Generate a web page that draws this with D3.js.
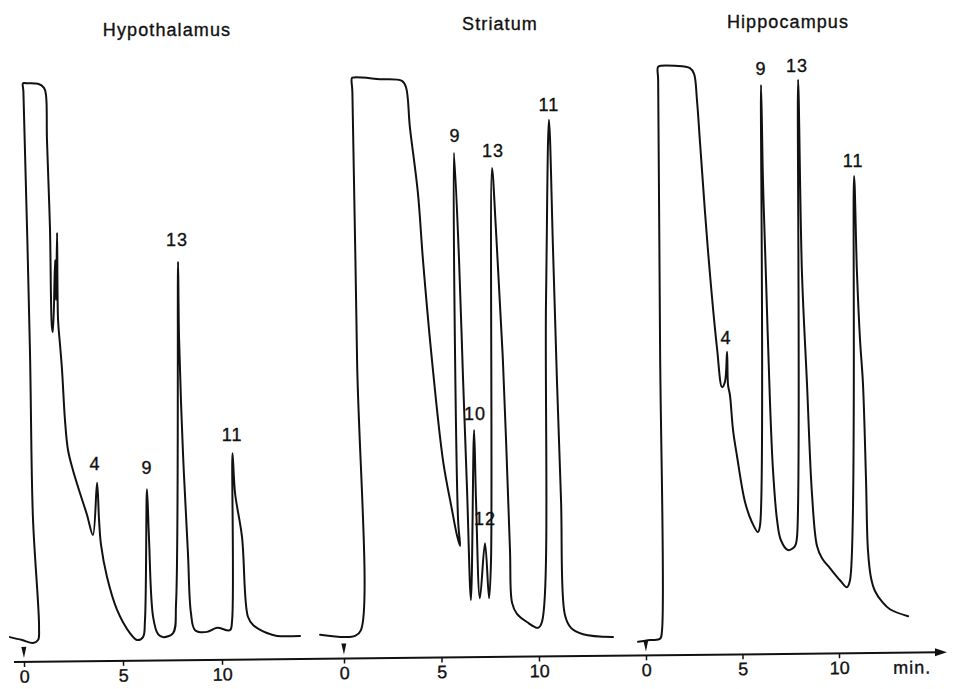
<!DOCTYPE html>
<html>
<head>
<meta charset="utf-8">
<script src="https://cdn.jsdelivr.net/npm/d3@7"></script>
<style>
  body { margin: 0; background: #fff; }
  svg text { font-family: "Liberation Sans", Arial, sans-serif; fill: #111; stroke: #111; stroke-width: 0.35px; }
</style>
</head>
<body>
<svg id="chart"></svg>
<script>
// Panel titles and axis ticks
const panelNames = ["Hypothalamus", "Striatum", "Hippocampus"];
const tickValues = [0, 5, 10];
const timeUnit = "min.";

// Traces: [time (min), detector signal (% of full scale)]
const hypothalamusTrace = [
    [-0.71, 0.5], [-0.10, 0], [0.45, -0.5], [0.71, 0], [0.76, 2.2], [0.45, 21.2], [0.30, 50],
    [-0.03, 94.5], [-0.05, 96], [0.10, 96], [0.71, 95.9], [1.01, 95.2], [1.11, 94], [1.16, 86.2],
    [1.31, 71.2], [1.41, 54], [1.46, 53.1], [1.57, 65.5], [1.62, 58.6], [1.67, 70.2], [1.72, 55.2],
    [1.82, 50.9], [1.92, 46.6], [2.07, 37.9], [2.22, 32.8], [2.47, 29.3], [2.83, 25.3], [3.18, 21.6],
    [3.48, 18.1], [3.69, 27.1], [3.79, 20.7], [3.89, 16.4], [4.19, 10.9], [4.70, 5.2], [5.35, 1.2],
    [5.71, 0], [6.01, 0.5], [6.11, 3.4], [6.21, 26.0], [6.31, 17.8], [6.52, 4.0], [6.77, 1.0],
    [7.02, 0.5], [7.53, 1.2], [7.68, 6.4], [7.78, 65.2], [7.83, 52.2], [8.03, 32.2], [8.28, 15.0],
    [8.43, 4.7], [8.64, 1.7], [9.24, 1.4], [9.75, 2.1], [10.40, 1.7], [10.51, 3.4], [10.53, 32.2],
    [10.66, 25.3], [11.01, 17.8], [11.31, 4.0], [11.57, 2.6], [12.27, 1.2], [12.78, 0.7], [13.94, 0.7]
];
const striatumTrace = [
    [-1.23, 0.9], [0.05, 0.5], [0.56, 0.7], [0.87, 1.7], [0.67, 48.3], [0.43, 94.5], [0.41, 96.9],
    [0.55, 97.0], [1.85, 96.7], [2.97, 96.4], [3.18, 95.3], [3.38, 88.4], [3.79, 77.1], [4.05, 65.5],
    [4.51, 48.3], [5.08, 30.9], [5.54, 22.4], [5.79, 18.1], [5.95, 16.2], [5.85, 20.7], [5.64, 84.0],
    [5.90, 65.5], [6.10, 45.5], [6.31, 25.9], [6.51, 6.9], [6.67, 36.2], [6.77, 24.1], [6.97, 7.2],
    [7.23, 16.7], [7.44, 7.2], [7.54, 13.8], [7.59, 81.4], [7.79, 70.9], [8.15, 48.1], [8.51, 15.7],
    [8.62, 6.4], [8.87, 4.5], [9.38, 3.1], [9.95, 2.1], [10.15, 3.1], [10.36, 58.6], [10.51, 89.7],
    [10.72, 67.2], [10.92, 44.8], [11.13, 24.1], [11.33, 4.3], [11.64, 2.1], [12.26, 1.0], [13.79, 0.5]
];
const hippocampusTrace = [
    [-0.41, -0.3], [0.21, 0], [0.73, 0.2], [0.83, 1.7], [0.73, 50], [0.63, 96.5], [0.62, 98.8],
    [0.75, 99.0], [1.50, 99.0], [2.28, 98.6], [2.49, 97.6], [2.64, 93.1], [2.80, 85.7], [3.21, 67.2],
    [3.68, 50.3], [3.94, 43.6], [4.09, 44.5], [4.20, 49.7], [4.25, 44.0], [4.35, 42.2], [4.51, 36.2],
    [4.72, 31.6], [5.13, 23.8], [5.49, 20.3], [5.80, 18.6], [5.91, 19.8], [5.96, 95.7], [6.06, 79.3],
    [6.22, 62.1], [6.42, 41.4], [6.58, 29.3], [6.79, 20.7], [6.99, 17.2], [7.36, 15.5], [7.72, 16.2],
    [7.82, 17.6], [7.88, 96.6], [8.08, 63.4], [8.34, 44.3], [8.60, 25.2], [8.86, 16.2], [9.12, 14.1],
    [9.53, 12.4], [10.05, 10.3], [10.41, 9.1], [10.57, 10.3], [10.78, 80.0], [10.93, 63.4],
    [11.09, 51.7], [11.24, 44.3], [11.40, 27.6], [11.50, 15.5], [11.66, 10.7], [11.87, 8.4],
    [12.23, 6.6], [12.64, 5.3], [13.58, 4.1]
];

// Peak numbers: [label, time, signal level of the label]
const hypothalamusPeaks = [["4", 3.59, 29.3], ["9", 6.21, 28.6], ["13", 7.73, 67.9], ["11", 10.51, 34.3]];
const striatumPeaks = [["9", 5.69, 85.9], ["10", 6.72, 37.9], ["12", 7.23, 19.8], ["13", 7.64, 83.3], ["11", 10.51, 91.2]];
const hippocampusPeaks = [["4", 4.15, 51.0], ["9", 5.96, 97.4], ["13", 7.82, 97.9], ["11", 10.73, 81.6]];

const traces = [hypothalamusTrace, striatumTrace, hippocampusTrace];
const peaks = [hypothalamusPeaks, striatumPeaks, hippocampusPeaks];

// Layout
const width = 955, height = 689;
const panelRanges = [[24, 222], [344, 539], [646, 839]]; // pixel position of 0 and 10 min
const titleLayout = [{ x: 167, y: 36 }, { x: 500, y: 30 }, { x: 788, y: 28 }];
const axisY = 662, axisX0 = 14, axisX1 = 947, axisTilt = -0.6;

const svg = d3.select("#chart").attr("width", width).attr("height", height);

const yScale = d3.scaleLinear().domain([0, 100]).range([640, 60]);
const xScales = panelRanges.map(r => d3.scaleLinear().domain([0, 10]).range(r));

const line = d3.line().curve(d3.curveCatmullRom.alpha(0.5));

traces.forEach((trace, i) => {
    const x = xScales[i];
    const g = svg.append("g").attr("class", "panel");

    g.append("path")
        .attr("d", line.x(d => x(d[0])).y(d => yScale(d[1]))(trace))
        .attr("fill", "none")
        .attr("stroke", "#111")
        .attr("stroke-width", 2)
        .attr("stroke-linejoin", "round")
        .attr("stroke-linecap", "round");

    g.selectAll(".peak-label")
        .data(peaks[i])
        .enter().append("text")
        .attr("class", "peak-label")
        .attr("x", d => x(d[1]))
        .attr("y", d => yScale(d[2]))
        .attr("text-anchor", "middle")
        .attr("font-size", 18)
        .attr("letter-spacing", 1)
        .text(d => d[0]);

    svg.append("text")
        .attr("x", titleLayout[i].x)
        .attr("y", titleLayout[i].y)
        .attr("text-anchor", "middle")
        .attr("font-size", 18)
        .attr("letter-spacing", 1.1)
        .text(panelNames[i]);
});

// Time axis: one continuous, slightly tilted line with an arrow
const axisGroup = svg.append("g")
    .attr("transform", `rotate(${axisTilt},${axisX0},${axisY})`);

axisGroup.append("line")
    .attr("x1", axisX0).attr("x2", axisX1 - 8)
    .attr("y1", axisY).attr("y2", axisY)
    .attr("stroke", "#111").attr("stroke-width", 2);

axisGroup.append("path")
    .attr("d", `M${axisX1},${axisY} L${axisX1 - 12},${axisY - 4} L${axisX1 - 12},${axisY + 4} Z`)
    .attr("fill", "#111");

xScales.forEach(x => {
    const a = axisGroup.append("g")
        .attr("transform", `translate(0,${axisY})`)
        .call(d3.axisBottom(x).tickValues(tickValues).tickSize(5).tickPadding(3).tickFormat(d3.format("d")));
    a.select(".domain").remove();
    a.selectAll(".tick line").attr("stroke", "#111").attr("stroke-width", 1.5);
    a.selectAll(".tick text")
        .attr("font-size", 18)
        .attr("font-family", "Liberation Sans, Arial, sans-serif")
        .attr("fill", "#111");

    // injection marker
    axisGroup.append("path")
        .attr("d", `M${x(0) - 2.5},${axisY - 15} L${x(0) + 2.5},${axisY - 15} L${x(0)},${axisY - 4} Z`)
        .attr("fill", "#111");
});

axisGroup.append("text")
    .attr("x", 893)
    .attr("y", axisY + 21)
    .attr("font-size", 18)
    .attr("letter-spacing", 1)
    .text(timeUnit);
</script>
</body>
</html>
